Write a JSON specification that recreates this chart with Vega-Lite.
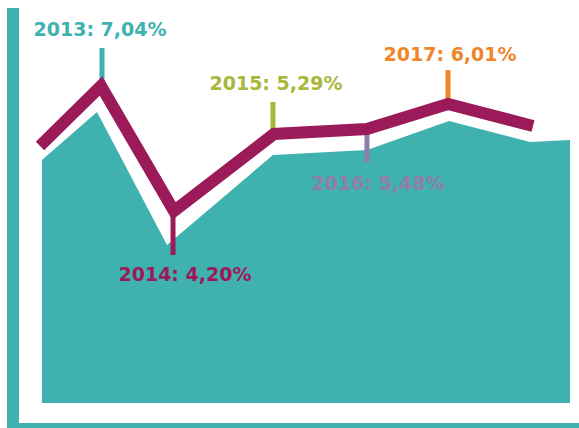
{
  "$schema": "https://vega.github.io/schema/vega-lite/v6.json",
  "width": 579,
  "height": 428,
  "padding": 0,
  "autosize": {"type": "none"},
  "background": "white",
  "config": {"view": {"stroke": null}},
  "datasets": {
    "frame": [
      {"part": "left bar", "x": 2011.881, "x2": 2012.021, "y": 9.813, "y2": 0},
      {"part": "bottom bar", "x": 2011.881, "x2": 2018.533, "y": 0.117, "y2": 0}
    ],
    "area": [
      {"t": 2012.288, "level": 6.262, "base": 0.584},
      {"t": 2012.928, "level": 7.383, "base": 0.584},
      {"t": 2013.742, "level": 4.276, "base": 0.584},
      {"t": 2014.974, "level": 6.379, "base": 0.584},
      {"t": 2016.067, "level": 6.495, "base": 0.584},
      {"t": 2017.021, "level": 7.173, "base": 0.584},
      {"t": 2017.963, "level": 6.682, "base": 0.584},
      {"t": 2018.428, "level": 6.729, "base": 0.584}
    ],
    "line": [
      {"t": 2012.265, "level": 6.589},
      {"t": 2012.974, "level": 7.991},
      {"t": 2013.823, "level": 5.070},
      {"t": 2014.986, "level": 6.869},
      {"t": 2016.067, "level": 6.986},
      {"t": 2017.009, "level": 7.570},
      {"t": 2017.998, "level": 7.056}
    ],
    "ticks": [
      {"year": "2013", "t": 2012.986, "top": 8.879, "bottom": 7.991},
      {"year": "2014", "t": 2013.812, "top": 5.070, "bottom": 4.042},
      {"year": "2015", "t": 2014.974, "top": 7.617, "bottom": 6.869},
      {"year": "2016", "t": 2016.067, "top": 6.986, "bottom": 6.215},
      {"year": "2017", "t": 2017.009, "top": 8.364, "bottom": 7.570}
    ],
    "labels": [
      {"year": "2013", "text": "2013: 7,04%", "t": 2012.963, "level": 9.299},
      {"year": "2014", "text": "2014: 4,20%", "t": 2013.951, "level": 3.575},
      {"year": "2015", "text": "2015: 5,29%", "t": 2015.009, "level": 8.037},
      {"year": "2016", "text": "2016: 5,48%", "t": 2016.195, "level": 5.701},
      {"year": "2017", "text": "2017: 6,01%", "t": 2017.033, "level": 8.715}
    ]
  },
  "layer": [
    {
      "data": {"name": "frame"},
      "mark": {"type": "rect", "color": "#3fb1ae"},
      "encoding": {
        "x": {"field": "x", "type": "quantitative", "scale": {"domain": [2011.8, 2018.5326], "nice": false, "zero": false}, "axis": null},
        "x2": {"field": "x2"},
        "y": {"field": "y", "type": "quantitative", "scale": {"domain": [0, 10], "nice": false}, "axis": null},
        "y2": {"field": "y2"}
      }
    },
    {
      "data": {"name": "area"},
      "mark": {"type": "area", "color": "#3fb1ae", "interpolate": "linear"},
      "encoding": {
        "x": {"field": "t", "type": "quantitative"},
        "y": {"field": "level", "type": "quantitative"},
        "y2": {"field": "base"}
      }
    },
    {
      "data": {"name": "ticks"},
      "mark": {"type": "rule", "strokeWidth": 5},
      "encoding": {
        "x": {"field": "t", "type": "quantitative"},
        "y": {"field": "top", "type": "quantitative"},
        "y2": {"field": "bottom"},
        "color": {"field": "year", "type": "nominal", "scale": {"domain": ["2013", "2014", "2015", "2016", "2017"], "range": ["#3fb1ae", "#9b1b5a", "#a9b83a", "#8f7fa8", "#f0862a"]}, "legend": null}
      }
    },
    {
      "data": {"name": "line"},
      "mark": {"type": "line", "color": "#9b1b5a", "strokeWidth": 12, "strokeCap": "butt", "strokeJoin": "miter"},
      "encoding": {
        "x": {"field": "t", "type": "quantitative"},
        "y": {"field": "level", "type": "quantitative"}
      }
    },
    {
      "data": {"name": "labels"},
      "mark": {"type": "text", "font": "DejaVu Sans", "fontWeight": "bold", "fontSize": 19, "align": "center", "baseline": "middle"},
      "encoding": {
        "x": {"field": "t", "type": "quantitative"},
        "y": {"field": "level", "type": "quantitative"},
        "text": {"field": "text"},
        "color": {"field": "year", "type": "nominal", "legend": null}
      }
    }
  ]
}
